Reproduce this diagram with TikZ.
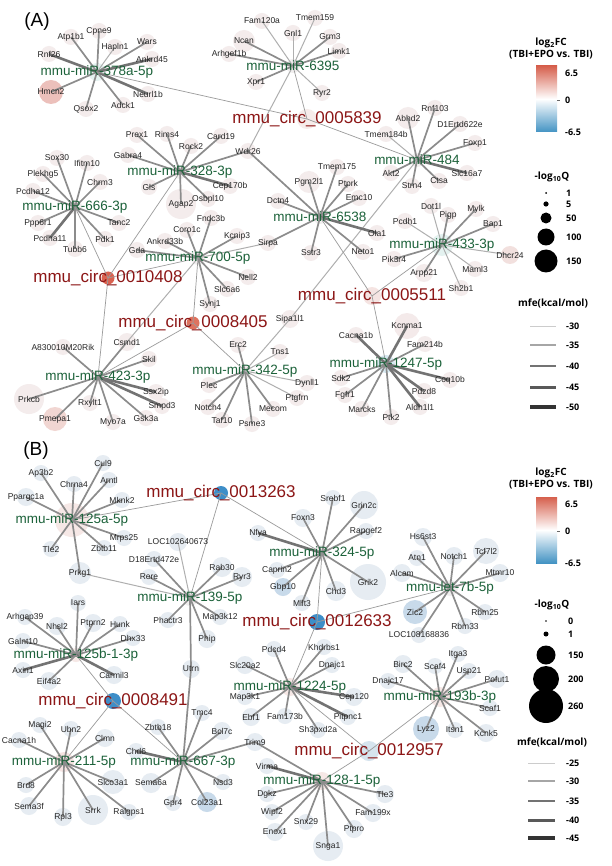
\documentclass[tikz,border=0pt]{standalone}
\usepackage{fontspec}
\setmainfont{Liberation Sans}
\newfontfamily\legfont{Open Sans}
\pgfdeclarelayer{bgl}\pgfdeclarelayer{circ}\pgfdeclarelayer{edge}
\pgfsetlayers{bgl,circ,edge,main}
\definecolor{mgreen}{RGB}{28,98,58}
\definecolor{cred}{RGB}{140,22,22}
\definecolor{gA}{RGB}{244,236,236}
\definecolor{gB}{RGB}{230,236,242}
\definecolor{gB2}{RGB}{200,218,234}
\definecolor{pinkA}{RGB}{236,192,187}
\definecolor{pinkB}{RGB}{241,214,210}
\definecolor{hubA}{RGB}{240,238,238}
\definecolor{hubC}{RGB}{228,242,240}
\definecolor{hubP}{RGB}{246,232,230}
\definecolor{hubQ}{RGB}{246,228,226}
\definecolor{hubBl}{RGB}{214,232,240}
\definecolor{fc5839}{RGB}{246,236,234}
\definecolor{fc5511}{RGB}{245,228,226}
\definecolor{fc8405}{RGB}{222,115,95}
\definecolor{fc12957}{RGB}{214,228,238}
\definecolor{fdhcr}{RGB}{242,224,222}
\definecolor{fkcn}{RGB}{244,234,234}
\definecolor{reddot}{RGB}{218,98,80}
\definecolor{bluedot}{RGB}{62,142,200}
\definecolor{lred}{RGB}{214,96,77}
\definecolor{lblue}{RGB}{67,147,195}
\definecolor{ce2}{RGB}{175,175,175}
\definecolor{ce3}{RGB}{140,140,140}
\definecolor{ce4}{RGB}{115,115,115}
\definecolor{cec}{RGB}{155,155,155}
\newcommand\gn[5][gA]{\begin{pgfonlayer}{circ}\fill[#1] (#3,#4) circle (#5pt);\end{pgfonlayer}\node[gtext] (#2) at (#3,#4) {#2};}
\newcommand\hbn[6][hubA]{\begin{pgfonlayer}{circ}\fill[#1] (#3,#4) circle (#5pt);\end{pgfonlayer}\node[mtext] (#2) at (#3,#4) {#6};}
\newcommand\crn[6][hubA]{\begin{pgfonlayer}{circ}\fill[#1] (#3,#4) circle (#5pt);\end{pgfonlayer}\node[ctext] (#2) at (#3,#4) {#6};}
\newcommand\hubedges[2]{\foreach \g/\s in {#2} {\draw[\s] (#1.center) -- (\g.center);}}
\tikzset{
 gtext/.style={inner sep=0pt, font=\fontsize{8.5}{9}\selectfont, text=black!85},
 mtext/.style={inner sep=0pt, font=\fontsize{13.5}{14}\selectfont, text=mgreen},
 ctext/.style={inner sep=0pt, font=\fontsize{17}{18}\selectfont, text=cred},
 e2/.style={line width=1pt, draw=ce2},
 e3/.style={line width=1.7pt, draw=ce3},
 e4/.style={line width=2.6pt, draw=ce4},
 ec/.style={line width=0.7pt, draw=cec},
 legt/.style={inner sep=0pt, font=\legfont\bfseries\fontsize{10}{11}\selectfont},
 legn/.style={inner sep=0pt, anchor=west, font=\legfont\bfseries\fontsize{9}{10}\selectfont},
 panel/.style={inner sep=0pt, font=\fontsize{19}{20}\selectfont},
}
\begin{document}
\begin{tikzpicture}[x=1pt,y=-1pt]
\useasboundingbox (0,0) rectangle (611,866);
\begin{pgfonlayer}{bgl}\fill[white] (0,0) rectangle (611,866);\end{pgfonlayer}
\node[panel] (pA) at (37,22) {(A)};
\node[panel] (pB) at (36,451) {(B)};
% ---------------- Panel A hubs
\hbn[hubC]{m378}{97}{72}{9}{mmu-miR-378a-5p}
\hbn{m6395}{293}{66}{7}{mmu-miR-6395}
\hbn{m484}{417}{160}{7}{mmu-miR-484}
\hbn{m328}{180}{172}{7}{mmu-miR-328-3p}
\hbn{m666}{75}{207}{7}{mmu-miR-666-3p}
\hbn{m6538}{320}{217}{7}{mmu-miR-6538}
\hbn[hubC]{m433}{442}{245}{11}{mmu-miR-433-3p}
\hbn{m700}{198}{258}{7}{mmu-miR-700-5p}
\hbn{m423}{98}{377}{7}{mmu-miR-423-3p}
\hbn{m342}{245}{371}{7}{mmu-miR-342-5p}
\hbn[hubBl]{m1247}{386}{364}{9}{mmu-miR-1247-5p}
\crn[fc5839]{c5839}{307}{119}{10}{mmu\_circ\_0005839}
\crn[reddot]{c10408}{108}{278}{6.5}{mmu\_circ\_0010408}
\crn[fc5511]{c5511}{372}{296}{9}{mmu\_circ\_0005511}
\crn[fc8405]{c8405}{193}{323}{6.5}{mmu\_circ\_0008405}
% genes A
\gn{Cpne9}{99}{31}{8}\gn{Atp1b1}{71}{37}{8}\gn{Hapln1}{115}{47}{8}\gn{Wars}{147}{42}{8}
\gn{Rnf26}{49}{54}{8}\gn{Ankrd45}{152}{59}{8}\gn[pinkA]{Hmcn2}{51}{92}{12}\gn{Neurl1b}{148}{94}{8}
\gn{Adck1}{123}{105}{8}\gn{Qsox2}{86}{109}{8}
\gn{Fam120a}{262}{21}{8}\gn{Tmem159}{315}{18}{8}\gn{Gnl1}{293}{33}{8}\gn{Grm3}{330}{37}{8}
\gn{Ncan}{244}{41}{11}\gn{Limk1}{339}{51}{8}\gn{Arhgef1b}{229}{54}{8}\gn{Xpr1}{256}{82}{8}
\gn{Ryr2}{322}{93}{8}\gn{Wdr26}{248}{151}{8}
\gn{Abhd2}{408}{118}{11}\gn{Rnf103}{435}{108}{8}\gn{D1Ertd622e}{460}{124}{8}\gn{Tmem184b}{386}{134}{8}
\gn{Foxp1}{475}{143}{8}\gn{Slc16a7}{467}{173}{8}\gn{Ctsa}{439}{181}{8}\gn{Strn4}{412}{186}{8}
\gn{Akt2}{391}{173}{8}\gn{Sipa1l1}{290}{319}{9}
\gn{Prex1}{137}{135}{8}\gn{Rims4}{167}{134}{8}\gn{Card19}{221}{136}{8}\gn{Rock2}{191}{146}{8}
\gn{Gabra4}{128}{155}{8}\gn{Cep170b}{230}{186}{8}\gn{Osbpl10}{208}{199}{8}\gn{Agap2}{181}{204}{15}
\gn{Gls}{149}{187}{8}
\gn{Sox30}{57}{158}{8}\gn{Ifitm10}{87}{163}{8}\gn{Plekhg5}{43}{174}{8}\gn{Chrm3}{100}{182}{8}
\gn{Pcdha12}{33}{191}{8}\gn{Ppp6r1}{38}{223}{8}\gn{Tanc2}{119}{223}{8}\gn{Pcdha11}{50}{238}{8}
\gn{Pdk1}{105}{239}{8}\gn{Tubb6}{75}{249}{8}
\gn{Tmem175}{337}{167}{8}\gn{Pgm2l1}{309}{182}{11}\gn{Ptprk}{348}{184}{8}\gn{Emc10}{359}{198}{8}
\gn{Dctn4}{278}{201}{8}\gn{Ola1}{377}{233}{8}\gn{Neto1}{363}{252}{8}\gn{Sstr3}{311}{253}{8}
\gn{Sirpa}{268}{243}{8}
\gn{Dot1l}{431}{206}{8}\gn{Pigp}{448}{215}{8}\gn{Mylk}{476}{209}{8}\gn{Bap1}{493}{224}{8}
\gn{Pcdh1}{405}{221}{8}\gn[fdhcr]{Dhcr24}{510}{255}{9}\gn{Maml3}{475}{269}{8}\gn{Arpp21}{424}{273}{9}
\gn{Pik3r4}{394}{259}{8}\gn{Sh2b1}{461}{288}{8}
\gn{Fndc3b}{211}{218}{8}\gn{Coro1c}{187}{230}{8}\gn{Kcnip3}{237}{236}{8}\gn{Ankrd33b}{165}{241}{8}
\gn{Gda}{137}{250}{8}\gn{Nell2}{248}{277}{8}\gn{Slc6a6}{227}{289}{8}\gn{Synj1}{210}{304}{8}
\gn{Csmd1}{127}{342}{9}
\gn{A830010M20Rik}{63}{347}{8}\gn{Skil}{149}{359}{8}\gn{Ssx2ip}{156}{392}{8}\gn{Smpd3}{162}{406}{8}
\gn{Gsk3a}{146}{418}{8}\gn{Myo7a}{113}{422}{8}\gn{Rxylt1}{90}{403}{8}\gn{Prkcb}{29}{399}{15}
\gn[pinkB]{Pmepa1}{55}{419}{12}
\gn{Erc2}{238}{345}{8}\gn{Plec}{209}{385}{8}\gn{Notch4}{208}{407}{8}\gn{Taf10}{222}{420}{8}
\gn{Psme3}{252}{424}{8}\gn{Mecom}{273}{409}{8}\gn{Ptgfrn}{297}{398}{8}\gn{Dynll1}{307}{383}{8}
\gn{Tns1}{280}{352}{8}
\gn[fkcn]{Kcnma1}{407}{326}{13}\gn{Cacna1b}{356}{335}{8}\gn{Fam214b}{425}{344}{8}\gn{Sdk2}{341}{378}{8}
\gn{Coq10b}{450}{380}{8}\gn{Fgfr1}{345}{395}{8}\gn{Pdzd8}{424}{391}{8}\gn{Marcks}{362}{409}{8}
\gn{Aldh1l1}{420}{407}{8}\gn{Ptk2}{391}{417}{8}
% ---------------- Panel B hubs
\hbn[hubP]{m125a}{72}{520}{17}{mmu-miR-125a-5p}
\hbn{m324}{322}{553}{8}{mmu-miR-324-5p}
\hbn{m139}{190}{598}{8}{mmu-miR-139-5p}
\hbn[hubP]{m125b}{76}{655}{7}{mmu-miR-125b-1-3p}
\hbn{mlet7}{450}{588}{8}{mmu-let-7b-5p}
\hbn[hubP]{m1224}{290}{687}{9}{mmu-miR-1224-5p}
\hbn[hubP]{m193}{440}{697}{10}{mmu-miR-193b-3p}
\hbn[hubQ]{m211}{64}{762}{10}{mmu-miR-211-5p}
\hbn{m667}{183}{762}{8}{mmu-miR-667-3p}
\hbn[hubP]{m128}{322}{781}{9}{mmu-miR-128-1-5p}
\crn[bluedot]{c13263}{221}{493}{7}{mmu\_circ\_0013263}
\crn[bluedot]{c12633}{317}{622}{8}{mmu\_circ\_0012633}
\crn[bluedot]{c8491}{113}{701}{8}{mmu\_circ\_0008491}
\crn[fc12957]{c12957}{369}{751}{10}{mmu\_circ\_0012957}
% genes B
\gn[gB]{Cul9}{103}{463}{8}\gn[gB]{Ap3b2}{41}{473}{8}\gn[gB]{Chrna4}{74}{484}{8}\gn[gB]{Arntl}{109}{480}{8}
\gn[gB]{Ppargc1a}{26}{497}{9}\gn[gB]{Mknk2}{122}{500}{8}\gn[gB]{Mrps25}{124}{538}{8}\gn[gB]{Zbtb11}{104}{548}{8}
\gn[gB]{Tle2}{51}{549}{8}\gn[gB]{Prkg1}{80}{573}{11}
\gn[gB]{Srebf1}{333}{498}{8}\gn[gB]{Grin2c}{364}{505}{14}\gn[gB]{Foxn3}{303}{518}{9}\gn[gB]{Rapgef2}{366}{531}{8}
\gn[gB]{Nfya}{258}{533}{8}\gn[gB]{Caprin2}{277}{570}{8}\gn[gB]{Grik2}{368}{582}{18}\gn[gB2]{Gbp10}{283}{587}{9}
\gn[gB]{Chd3}{336}{591}{10}\gn[gB]{Mllt3}{302}{603}{8}
\gn[gB]{LOC102640673}{178}{542}{9}\gn[gB]{D18Ertd472e}{154}{559}{8}\gn[gB]{Rab30}{222}{567}{10}\gn[gB]{Rere}{149}{577}{8}
\gn[gB]{Ryr3}{242}{577}{10}\gn[gB]{Phactr3}{168}{620}{8}\gn[gB]{Map3k12}{220}{617}{8}\gn[gB]{Phip}{207}{639}{9}
\gn[gB]{Utrn}{191}{669}{9}
\gn[gB]{Iars}{78}{603}{8}\gn[gB]{Arhgap39}{25}{617}{8}\gn[gB]{Nhsl2}{57}{626}{9}\gn[gB]{Ptprn2}{93}{623}{9}
\gn[gB]{Hunk}{120}{624}{8}\gn[gB]{Galnt10}{23}{641}{8}\gn[gB]{Dhx33}{133}{638}{8}\gn[gB]{Axin1}{23}{670}{8}
\gn[gB]{Eif4a2}{49}{681}{9}\gn[gB]{Carmil3}{114}{675}{9}
\gn[gB]{Hs6st3}{423}{537}{9}\gn[gB]{Atn1}{417}{558}{8}\gn[gB]{Notch1}{454}{556}{9}\gn[gB]{Tcf7l2}{486}{551}{13}
\gn[gB]{Mtmr10}{500}{573}{9}\gn[gB]{Alcam}{402}{573}{9}\gn[gB2]{Zic2}{415}{612}{12}\gn[gB]{Rbm25}{485}{612}{8}
\gn[gB]{Rbm33}{465}{626}{8}\gn[gB]{LOC108168836}{419}{635}{8}
\gn[gB]{Khdrbs1}{324}{647}{8}\gn[gB]{Pdcd4}{274}{649}{8}\gn[gB]{Dnajc1}{332}{665}{8}\gn[gB]{Slc20a2}{245}{665}{9}
\gn[gB]{Cep120}{354}{697}{9}\gn[gB]{Map3k1}{245}{697}{8}\gn[gB]{Ebf1}{251}{717}{9}\gn[gB]{Fam173b}{285}{716}{8}
\gn[gB]{Pitpnc1}{348}{717}{8}\gn[gB]{Sh3pxd2a}{318}{730}{8}
\gn[gB]{Itga3}{458}{654}{8}\gn[gB]{Birc2}{403}{664}{9}\gn[gB]{Scaf4}{435}{666}{8}\gn[gB]{Usp21}{469}{671}{8}
\gn[gB]{Pofut1}{497}{679}{9}\gn[gB]{Dnajc17}{388}{681}{8}\gn[gB]{Scaf1}{490}{708}{8}\gn[gB2]{Lyz2}{426}{729}{13}
\gn[gB]{Itsn1}{455}{730}{8}\gn[gB]{Kcnk5}{486}{733}{9}
\gn[gB]{Magi2}{40}{725}{8}\gn[gB]{Ubn2}{71}{729}{8}\gn[gB]{Clmn}{105}{738}{9}\gn[gB]{Cacna1h}{19}{740}{8}
\gn[gB]{Brd8}{26}{785}{8}\gn[gB]{Slco3a1}{113}{782}{12}\gn[gB]{Sema3f}{29}{806}{9}\gn[gB]{Rpl3}{63}{817}{9}
\gn[gB]{Srrk}{93}{810}{15}\gn[gB]{Ralgps1}{129}{812}{8}
\gn[gB]{Zbtb18}{158}{727}{8}\gn[gB]{Tmc4}{202}{713}{8}\gn[gB]{Bcl7c}{222}{731}{9}\gn[gB]{Chd6}{136}{751}{8}
\gn[gB]{Nsd3}{223}{782}{8}\gn[gB]{Sema6a}{151}{783}{10}\gn[gB]{Gpr4}{173}{803}{8}\gn[gB2]{Col23a1}{207}{802}{10}
\gn[gB]{Trim9}{255}{742}{9}
\gn[gB]{Virma}{267}{766}{8}\gn[gB]{Dgkz}{267}{794}{8}\gn[gB]{Tle3}{385}{794}{9}\gn[gB]{Wipf2}{272}{812}{8}
\gn[gB]{Fam199x}{373}{813}{9}\gn[gB]{Snx29}{306}{822}{8}\gn[gB]{Ptpro}{354}{829}{9}\gn[gB]{Enox1}{275}{832}{9}
\gn[gB]{Snga1}{328}{846}{15}
% ---------------- edges
\begin{pgfonlayer}{edge}
\hubedges{m378}{Cpne9/e3,Atp1b1/e3,Hapln1/e2,Wars/e3,Rnf26/e4,Ankrd45/e4,Hmcn2/e3,Neurl1b/e4,Adck1/e3,Qsox2/e3}
\hubedges{m6395}{Fam120a/e2,Tmem159/e2,Gnl1/e2,Grm3/e3,Ncan/e3,Limk1/e3,Arhgef1b/e3,Xpr1/e3,Ryr2/e2,Wdr26/e2}
\hubedges{m484}{Abhd2/e3,Rnf103/e3,D1Ertd622e/e3,Tmem184b/e2,Foxp1/e3,Slc16a7/e4,Ctsa/e3,Strn4/e3,Akt2/e3,Sipa1l1/e2}
\hubedges{m328}{Prex1/e3,Rims4/e3,Card19/e3,Rock2/e3,Gabra4/e3,Wdr26/e3,Cep170b/e4,Osbpl10/e3,Agap2/e3,Gls/e3}
\hubedges{m666}{Sox30/e3,Ifitm10/e3,Plekhg5/e3,Chrm3/e3,Pcdha12/e3,Ppp6r1/e3,Tanc2/e3,Pcdha11/e4,Pdk1/e3,Tubb6/e3}
\hubedges{m6538}{Tmem175/e3,Pgm2l1/e3,Ptprk/e3,Emc10/e3,Dctn4/e3,Ola1/e4,Neto1/e3,Sstr3/e3,Sirpa/e3,Wdr26/e3}
\hubedges{m433}{Dot1l/e2,Pigp/e3,Mylk/e3,Bap1/e3,Pcdh1/e2,Dhcr24/e2,Maml3/e2,Arpp21/e3,Pik3r4/e3,Sh2b1/e2}
\hubedges{m700}{Fndc3b/e3,Coro1c/e3,Kcnip3/e3,Ankrd33b/e3,Gda/e3,Nell2/e3,Slc6a6/e3,Synj1/e3,Csmd1/e2,Sirpa/e2}
\hubedges{m423}{A830010M20Rik/e3,Csmd1/e3,Skil/e3,Ssx2ip/e4,Smpd3/e4,Gsk3a/e3,Myo7a/e3,Rxylt1/e3,Prkcb/e3,Pmepa1/e3}
\hubedges{m342}{Erc2/e3,Plec/e3,Notch4/e3,Taf10/e3,Psme3/e3,Mecom/e3,Ptgfrn/e2,Dynll1/e2,Tns1/e2,Sipa1l1/e2}
\hubedges{m1247}{Kcnma1/e4,Cacna1b/e4,Fam214b/e3,Sdk2/e3,Coq10b/e4,Fgfr1/e3,Pdzd8/e4,Marcks/e3,Aldh1l1/e4,Ptk2/e3}
\hubedges{c5839}{m378/ec,m6395/ec,m484/ec}
\hubedges{c10408}{m666/ec,m328/ec,m700/ec,m423/ec}
\hubedges{c8405}{m700/ec,m423/ec,m342/ec}
\hubedges{c5511}{m6538/ec,m433/ec,m1247/ec}
\hubedges{m125a}{Cul9/e3,Ap3b2/e3,Chrna4/e3,Arntl/e3,Ppargc1a/e3,Mknk2/e3,Mrps25/e3,Zbtb11/e3,Tle2/e3,Prkg1/e3}
\hubedges{m324}{Srebf1/e3,Grin2c/e3,Foxn3/e3,Rapgef2/e3,Nfya/e4,Caprin2/e3,Grik2/e3,Gbp10/e3,Chd3/e3,Mllt3/e3}
\hubedges{m139}{LOC102640673/e2,D18Ertd472e/e3,Rab30/e3,Rere/e3,Ryr3/e3,Phactr3/e3,Map3k12/e3,Phip/e3,Utrn/e3,Prkg1/e2}
\hubedges{m125b}{Iars/e3,Arhgap39/e3,Nhsl2/e3,Ptprn2/e3,Hunk/e3,Galnt10/e3,Dhx33/e3,Axin1/e4,Eif4a2/e3,Carmil3/e4}
\hubedges{mlet7}{Hs6st3/e3,Atn1/e3,Notch1/e3,Tcf7l2/e3,Mtmr10/e3,Alcam/e3,Zic2/e3,Rbm25/e3,Rbm33/e3,LOC108168836/e3}
\hubedges{m1224}{Khdrbs1/e3,Pdcd4/e3,Dnajc1/e3,Slc20a2/e3,Cep120/e4,Map3k1/e3,Ebf1/e3,Fam173b/e3,Pitpnc1/e4,Sh3pxd2a/e3}
\hubedges{m193}{Itga3/e3,Birc2/e3,Scaf4/e3,Usp21/e3,Pofut1/e3,Dnajc17/e3,Scaf1/e3,Lyz2/e3,Itsn1/e3,Kcnk5/e3}
\hubedges{m211}{Magi2/e3,Ubn2/e3,Clmn/e3,Cacna1h/e3,Brd8/e3,Slco3a1/e3,Sema3f/e3,Rpl3/e3,Srrk/e3,Ralgps1/e3}
\hubedges{m667}{Zbtb18/e3,Tmc4/e3,Bcl7c/e3,Chd6/e4,Nsd3/e3,Sema6a/e3,Gpr4/e3,Col23a1/e3,Trim9/e3,Utrn/e3}
\hubedges{m128}{Virma/e4,Dgkz/e3,Tle3/e3,Wipf2/e3,Fam199x/e3,Snx29/e3,Ptpro/e3,Enox1/e3,Snga1/e3,Trim9/e3}
\hubedges{c13263}{m125a/ec,m324/ec,m139/ec}
\hubedges{c12633}{m324/ec,mlet7/ec,m1224/ec}
\hubedges{c8491}{m125b/ec,m211/ec,m667/ec}
\hubedges{c12957}{m1224/ec,m193/ec,m128/ec}
\end{pgfonlayer}
% ---------------- legend A
\node[legt] (lA1) at (551,43) {log\textsubscript{2}FC};
\node[legt] (lA2) at (551,55) {(TBI+EPO vs. TBI)};
\shade[top color=lred, bottom color=lblue, middle color=white] (536,66) rectangle (557,132);
\draw[black!60, line width=0.4pt] (557,100) -- (560,100);
\node[legn] (lA3) at (565,73) {6.5};
\node[legn] (lA4) at (565,100) {0};
\node[legn] (lA5) at (565,132) {-6.5};
\node[legt] (lA6) at (552,177) {-log\textsubscript{10}Q};
\foreach \yy/\rr/\tt in {193/1/1,204/2.6/5,218/5.5/50,237/8.5/100,261/11.5/150}{
  \fill[black] (546,\yy) circle (\rr pt);
  \node[legn] at (566,\yy) {\tt};}
\node[legt] (lA7) at (553,303) {mfe(kcal/mol)};
\foreach \yy/\ww/\cc/\tt in {326/0.3/20/-30,345/1.2/35/-35,366/2.2/55/-40,387/3/65/-45,407/4/80/-50}{
  \draw[line width=\ww pt, black!\cc] (530,\yy) -- (556,\yy);
  \node[legn] at (566,\yy) {\tt};}
% ---------------- legend B
\node[legt] (lB1) at (551,473) {log\textsubscript{2}FC};
\node[legt] (lB2) at (551,485) {(TBI+EPO vs. TBI)};
\shade[top color=lred, bottom color=lblue, middle color=white] (536,497) rectangle (557,563);
\draw[black!60, line width=0.4pt] (557,531) -- (560,531);
\node[legn] (lB3) at (565,504) {6.5};
\node[legn] (lB4) at (565,531) {0};
\node[legn] (lB5) at (565,563) {-6.5};
\node[legt] (lB6) at (552,605) {-log\textsubscript{10}Q};
\foreach \yy/\rr/\tt in {621/0.8/0,634/2.5/1,655/9.5/150,679/13/200,706/17/260}{
  \fill[black] (546,\yy) circle (\rr pt);
  \node[legn] at (568,\yy) {\tt};}
\node[legt] (lB7) at (552,742) {mfe(kcal/mol)};
\foreach \yy/\ww/\cc/\tt in {763/0.3/20/-25,781/1.2/35/-30,801/2.2/55/-35,820/3/65/-40,838/4/80/-45}{
  \draw[line width=\ww pt, black!\cc] (528,\yy) -- (555,\yy);
  \node[legn] at (566,\yy) {\tt};}
\end{tikzpicture}
\end{document}
